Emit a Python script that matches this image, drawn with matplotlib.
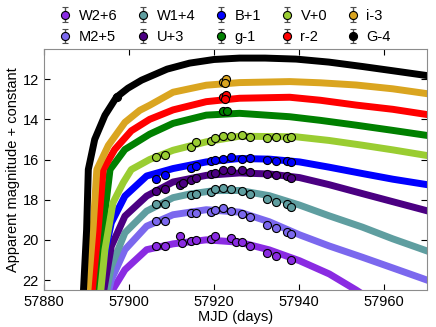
import matplotlib
matplotlib.use('Agg')
import matplotlib.pyplot as plt

plt.rcParams['font.family'] = ['Liberation Sans', 'DejaVu Sans']
plt.rcParams['font.size'] = 10.5

# legend / band order (column-major fill gives the 2x5 layout)
band_labels = ['W2+6', 'M2+5', 'W1+4', 'U+3', 'B+1', 'g-1', 'V+0', 'r-2', 'i-3', 'G-4']
band_colors = ['#8A2BE2', '#7B68EE', '#5F9EA0', '#4B0082', '#0000FF',
               '#008000', '#9ACD32', '#FF0000', '#DAA520', '#000000']

# observed points (already shifted by the constants in the labels)
w2_t = [57906.3, 57908.4, 57912.0, 57912.6, 57914.5, 57915.9, 57919.2, 57920.2,
        57924.1, 57925.3, 57926.6, 57928.5, 57932.4, 57934.5, 57938.1]
w2_mag = [20.32, 20.32, 19.79, 20.15, 20.04, 20.0, 19.95, 19.79,
          19.92, 20.12, 20.09, 20.29, 20.67, 20.82, 21.0]
m2_t = [57906.3, 57908.4, 57914.5, 57915.9, 57919.2, 57920.2, 57922.1,
        57924.1, 57926.6, 57928.5, 57932.4, 57934.5, 57937.2, 57938.1]
m2_mag = [19.07, 19.07, 18.67, 18.67, 18.62, 18.49, 18.42,
          18.54, 18.70, 18.87, 19.25, 19.42, 19.59, 19.70]
w1_t = [57906.3, 57908.4, 57914.5, 57915.9, 57919.2, 57920.2, 57922.1,
        57924.1, 57926.6, 57928.5, 57932.4, 57934.5, 57937.2, 57938.1]
w1_mag = [18.20, 18.20, 17.79, 17.74, 17.62, 17.45, 17.42,
          17.45, 17.57, 17.70, 17.99, 18.12, 18.20, 18.34]
u_t = [57906.3, 57908.4, 57912.1, 57912.7, 57914.5, 57915.9, 57919.2, 57920.2,
       57922.1, 57924.1, 57926.6, 57928.5, 57932.4, 57934.5, 57937.2, 57938.1]
u_mag = [17.57, 17.49, 17.29, 17.17, 17.0, 16.90, 16.74, 16.67,
         16.54, 16.50, 16.54, 16.62, 16.70, 16.79, 16.84, 16.92]
b_t = [57906.3, 57908.4, 57914.5, 57915.9, 57919.2, 57920.2, 57922.1,
       57924.1, 57926.6, 57928.5, 57932.4, 57934.5, 57937.2, 57938.1]
b_mag = [16.95, 16.79, 16.40, 16.30, 16.05, 16.03, 15.95,
         15.87, 15.95, 15.92, 16.03, 16.07, 16.07, 16.12]
g_t = [57922.1, 57923.0]
g_mag = [13.57, 13.57]
v_t = [57906.3, 57908.4, 57914.5, 57915.9, 57919.2, 57920.2, 57922.1,
       57924.1, 57926.6, 57928.5, 57932.4, 57934.5, 57937.2, 57938.1]
v_mag = [15.90, 15.79, 15.40, 15.15, 15.07, 14.95, 14.84,
         14.82, 14.80, 14.87, 14.95, 14.87, 14.92, 14.87]
r_t = [57922.1, 57922.9, 57922.5]
r_mag = [12.87, 12.79, 13.0]
i_t = [57922.1, 57922.9, 57922.5]
i_mag = [12.12, 12.0, 12.2]
gg_t = [57897.2]
gg_mag = [12.88]
obs_err = 0.08

# model light curves
mod_w2_t = [57895.3, 57899.1, 57904.2, 57910.4, 57918.2, 57926.0, 57933.0,
            57940.1, 57947.1, 57953.4, 57957.0]
mod_w2_mag = [22.8, 21.49, 20.49, 20.2, 20.0, 20.12, 20.5, 21.04, 21.7, 22.5, 23.0]
mod_m2_t = [57895.0, 57895.9, 57899.1, 57904.2, 57910.4, 57918.2, 57926.0,
            57933.0, 57940.1, 57947.0, 57954.9, 57962.0, 57970.0]
mod_m2_mag = [22.8, 21.99, 20.49, 19.32, 18.75, 18.5, 18.62,
              19.1, 19.75, 20.3, 20.87, 21.4, 22.0]
mod_w1_t = [57894.6, 57895.9, 57899.1, 57904.2, 57910.4, 57914.3, 57920.0,
            57926.0, 57933.0, 57940.1, 57947.0, 57954.9, 57962.0, 57970.0]
mod_w1_mag = [22.8, 21.32, 19.65, 18.57, 17.9, 17.72, 17.55,
              17.54, 17.8, 18.27, 18.8, 19.37, 19.95, 20.55]
mod_u_t = [57893.9, 57895.9, 57899.1, 57904.2, 57910.4, 57918.2, 57926.0,
           57933.0, 57940.1, 57947.0, 57954.9, 57962.0, 57970.0]
mod_u_mag = [22.8, 20.32, 18.82, 17.82, 17.12, 16.79, 16.67,
             16.72, 16.9, 17.25, 17.7, 18.1, 18.55]
mod_b_t = [57892.8, 57893.6, 57895.9, 57899.1, 57904.2, 57910.4, 57918.2,
           57926.0, 57933.0, 57940.1, 57947.0, 57954.9, 57962.0, 57970.0]
mod_b_mag = [22.8, 21.49, 19.15, 17.82, 16.82, 16.45, 16.12,
             15.95, 15.98, 16.12, 16.38, 16.7, 16.98, 17.25]
mod_g_t = [57892.3, 57893.9, 57895.6, 57899.1, 57904.9, 57910.4, 57918.2,
           57926.0, 57937.8, 57945.0, 57953.4, 57962.0, 57970.0]
mod_g_mag = [22.8, 19.5, 16.5, 15.5, 14.74, 14.2, 13.79,
             13.7, 13.87, 14.05, 14.29, 14.55, 14.8]
mod_v_t = [57893.3, 57894.4, 57896.3, 57898.7, 57900.6, 57904.9, 57910.4,
           57918.2, 57926.0, 57939.3, 57947.0, 57954.9, 57962.0, 57970.0]
mod_v_mag = [22.8, 20.5, 18.15, 17.15, 16.5, 16.0, 15.54,
             15.12, 14.84, 14.87, 15.05, 15.29, 15.52, 15.8]
mod_r_t = [57891.3, 57892.8, 57894.0, 57896.7, 57900.6, 57904.9, 57910.4,
           57918.2, 57926.0, 57937.8, 57945.0, 57953.4, 57962.0, 57970.0]
mod_r_mag = [22.8, 19.5, 16.5, 15.5, 14.57, 14.0, 13.53,
             13.12, 12.95, 12.9, 13.05, 13.29, 13.5, 13.76]
mod_i_t = [57890.3, 57891.6, 57892.5, 57895.2, 57899.1, 57902.6, 57904.9,
           57910.4, 57918.2, 57926.0, 57937.8, 57945.0, 57953.4, 57962.0, 57970.0]
mod_i_mag = [22.8, 19.5, 16.5, 15.3, 14.15, 13.55, 13.3,
             12.65, 12.3, 12.17, 12.12, 12.18, 12.29, 12.48, 12.72]
mod_gg_t = [57889.3, 57890.1, 57890.5, 57892.0, 57894.4, 57897.1, 57899.8,
            57903.0, 57909.0, 57914.3, 57920.0, 57926.0, 57932.0, 57939.3,
            57947.0, 57954.9, 57962.0, 57970.0]
mod_gg_mag = [22.8, 19.5, 16.5, 15.0, 13.8, 12.9, 12.45,
              12.05, 11.5, 11.2, 11.02, 10.95, 10.95, 11.0,
              11.15, 11.37, 11.58, 11.82]

obs = [(w2_t, w2_mag), (m2_t, m2_mag), (w1_t, w1_mag), (u_t, u_mag), (b_t, b_mag),
       (g_t, g_mag), (v_t, v_mag), (r_t, r_mag), (i_t, i_mag), (gg_t, gg_mag)]
models = [(mod_w2_t, mod_w2_mag), (mod_m2_t, mod_m2_mag), (mod_w1_t, mod_w1_mag),
          (mod_u_t, mod_u_mag), (mod_b_t, mod_b_mag), (mod_g_t, mod_g_mag),
          (mod_v_t, mod_v_mag), (mod_r_t, mod_r_mag), (mod_i_t, mod_i_mag),
          (mod_gg_t, mod_gg_mag)]

fig = plt.figure(figsize=(4.36, 3.27), dpi=100)
ax = fig.add_axes([0.100, 0.113, 0.879, 0.737])

# model bands first, then the data on top
for (mt, mm), col in zip(models, band_colors):
    ax.plot(mt, mm, color=col, lw=5, solid_joinstyle='round', zorder=2)

handles = []
for (t, m), col, lab in zip(obs, band_colors, band_labels):
    h = ax.errorbar(t, m, yerr=obs_err, fmt='o', color=col, ms=5.8, mec='black',
                    mew=0.8, ecolor='0.3', elinewidth=1, capsize=2.5, label=lab,
                    zorder=5)
    handles.append(h)

ax.set_xlim(57880, 57970)
ax.set_ylim(22.5, 10.5)
ax.set_xticks([57880, 57900, 57920, 57940, 57960])
ax.set_yticks([12, 14, 16, 18, 20, 22])
ax.tick_params(direction='in', top=True, right=True, length=4, width=0.8)
for sp in ax.spines.values():
    sp.set_color('0.55')
ax.set_xlabel('MJD (days)', labelpad=1)
ax.set_ylabel('Apparent magnitude + constant', labelpad=2)

fig.legend(handles=handles, labels=band_labels, loc='upper center',
           bbox_to_anchor=(0.515, 1.0), ncol=5, frameon=False,
           handlelength=1.0, handletextpad=0.4, columnspacing=1.3,
           labelspacing=0.5, borderaxespad=0.2)

fig.savefig('out.png', dpi=100)
